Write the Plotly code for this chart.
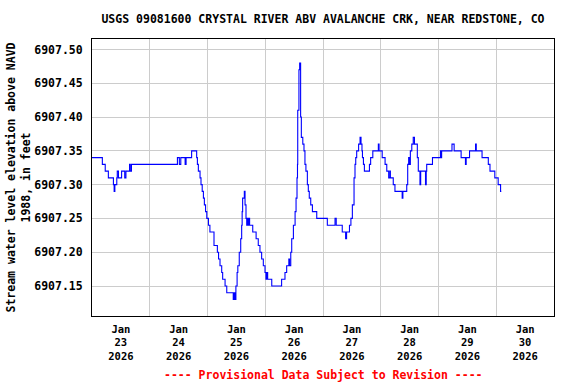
import pandas as pd
import plotly.graph_objects as go

title_text = "USGS 09081600 CRYSTAL RIVER ABV AVALANCHE CRK, NEAR REDSTONE, CO"
y_title = "Stream water level elevation above NAVD<br>1988, in feet"
footer_text = "---- Provisional Data Subject to Revision ----"
start_time = "2026-01-23 00:00"

# hours since start of Jan 23 2026 at which the gage level changes
hours = [0.0, 4.3, 5.5, 6.8, 8.9, 9.2, 9.5, 10.3, 10.5, 11.0, 12.3, 13.6, 14.1, 15.6, 15.9, 16.4,
         35.5, 36.3, 36.9, 38.7, 39.1, 41.4, 43.5, 43.8, 44.2, 44.9, 45.3, 45.8, 46.3, 46.7, 47.2,
         47.7, 48.4, 49.0, 50.7, 52.1, 52.6, 53.2, 53.9, 54.3, 55.3, 56.0, 58.7, 59.1, 59.4, 59.8,
         60.3, 60.6, 61.2, 61.8, 62.2, 62.4, 62.6, 63.3, 63.6, 64.0, 64.3, 64.6, 64.8, 65.2, 65.5,
         66.8, 68.2, 69.1, 69.8, 70.5, 71.2, 71.9, 72.3, 72.6, 73.0, 74.7, 78.8, 80.2, 80.9, 81.8,
         82.1, 82.6, 83.0, 83.7, 84.4, 84.8, 85.2, 85.4, 85.5, 86.0, 86.3, 86.7, 87.0, 87.6, 88.1,
         88.5, 88.9, 89.5, 89.9, 90.3, 90.9, 91.6, 93.4, 97.8, 101.0, 101.5, 104.0, 105.4, 105.8,
         107.0, 107.6, 108.2, 108.9, 109.3, 109.6, 110.0, 110.8, 111.4, 111.8, 112.2, 112.4, 112.8,
         113.2, 115.3, 115.8, 116.7, 119.0, 119.3, 120.6, 121.8, 122.5, 123.3, 123.8, 124.0, 125.2,
         125.9, 128.9, 129.2, 130.8, 131.2, 131.6, 131.9, 132.3, 132.9, 133.5, 134.0, 135.2, 135.6,
         136.3, 136.6, 138.6, 138.9, 139.1, 141.5, 144.8, 145.0, 145.3, 149.6, 150.5, 153.4, 155.2,
         155.5, 156.9, 159.4, 159.7, 162.1, 164.7, 165.4, 167.4, 168.8, 169.8, 170.1]

levels = [6907.34, 6907.33, 6907.32, 6907.31, 6907.30, 6907.29, 6907.30, 6907.31, 6907.32, 6907.31,
          6907.32, 6907.31, 6907.32, 6907.33, 6907.32, 6907.33,
          6907.34, 6907.33, 6907.34, 6907.33, 6907.34, 6907.35, 6907.34, 6907.33, 6907.32, 6907.31,
          6907.30, 6907.29, 6907.28, 6907.27, 6907.26,
          6907.25, 6907.24, 6907.23, 6907.21, 6907.20, 6907.19, 6907.18, 6907.17, 6907.16, 6907.15,
          6907.14, 6907.13, 6907.14, 6907.13, 6907.15,
          6907.17, 6907.18, 6907.20, 6907.22, 6907.24, 6907.26, 6907.28, 6907.29, 6907.27, 6907.25,
          6907.24, 6907.25, 6907.24, 6907.25, 6907.24,
          6907.23, 6907.22, 6907.21, 6907.20, 6907.19, 6907.18, 6907.17, 6907.16, 6907.17, 6907.16,
          6907.15, 6907.16, 6907.17, 6907.18, 6907.19,
          6907.18, 6907.20, 6907.22, 6907.24, 6907.26, 6907.28, 6907.31, 6907.33, 6907.41, 6907.47,
          6907.48, 6907.40, 6907.37, 6907.36, 6907.35,
          6907.33, 6907.32, 6907.30, 6907.29, 6907.28, 6907.27, 6907.26, 6907.25, 6907.24, 6907.25,
          6907.24, 6907.23, 6907.22, 6907.23,
          6907.24, 6907.25, 6907.27, 6907.31, 6907.33, 6907.34, 6907.35, 6907.36, 6907.37, 6907.36,
          6907.35, 6907.34, 6907.33,
          6907.32, 6907.33, 6907.34, 6907.35, 6907.36, 6907.35, 6907.34, 6907.33, 6907.32, 6907.31,
          6907.32, 6907.31, 6907.30,
          6907.29, 6907.28, 6907.29, 6907.30, 6907.33, 6907.34, 6907.33, 6907.35, 6907.36, 6907.37,
          6907.36, 6907.34, 6907.32,
          6907.30, 6907.32, 6907.30, 6907.32, 6907.33, 6907.34, 6907.35, 6907.34, 6907.35, 6907.36,
          6907.35, 6907.34, 6907.33,
          6907.34, 6907.35, 6907.36, 6907.35, 6907.34, 6907.33, 6907.32, 6907.31, 6907.30, 6907.29,
          6907.29]

times = pd.Timestamp(start_time) + pd.to_timedelta(hours, unit="h")

FONT = "DejaVu Sans Mono"

fig = go.Figure()
fig.add_trace(go.Scatter(x=times, y=levels, mode="lines", line=dict(color="#0000FF", width=1.1, shape="hv"),
                         showlegend=False))

fig.update_layout(
    width=576, height=384,
    margin=dict(l=92, r=22, t=39, b=68, autoexpand=False),
    paper_bgcolor="white", plot_bgcolor="white",
    font=dict(family=FONT, size=11.5, color="black", weight="bold"),
    title=dict(text=title_text, x=323 / 576, xanchor="center", y=1 - 19 / 384, yanchor="middle",
               yref="container", automargin=False,
               font=dict(family=FONT, size=11.5, color="black", weight="bold")),
    xaxis=dict(type="date", range=["2026-01-23 00:00", "2026-01-31 00:00"], automargin=False,
               tick0="2026-01-23", dtick=86400000, ticklabelmode="period",
               tickformat="%b<br>%d<br>%Y", showgrid=True, gridcolor="#CCCCCC", gridwidth=1,
               showline=True, linecolor="black", linewidth=1, mirror=True,
               ticks="outside", ticklen=3, tickcolor="rgba(0,0,0,0)",
               tickfont=dict(family=FONT, size=10.5, color="black", weight="bold")),
    yaxis=dict(range=[6907.1056, 6907.5155], tick0=6907.15, dtick=0.05, tickformat=".2f",
               automargin=False,
               showgrid=True, gridcolor="#CCCCCC", gridwidth=1, zeroline=False,
               showline=True, linecolor="black", linewidth=1, mirror=True,
               ticks="outside", ticklen=6, tickcolor="rgba(0,0,0,0)",
               tickfont=dict(family=FONT, size=11.5, color="black", weight="bold"),
               title=dict(text=y_title, standoff=1,
                          font=dict(family=FONT, size=11.5, color="black", weight="bold"))),
)

fig.add_annotation(text=footer_text, xref="paper", yref="paper", x=0.5, y=-(375 - 316) / 277,
                   xanchor="center", yanchor="middle", showarrow=False,
                   font=dict(family=FONT, size=11.5, color="red", weight="bold"))

fig.write_html("out.html", config={"displayModeBar": False},
               post_script="document.body.style.margin='0';")
